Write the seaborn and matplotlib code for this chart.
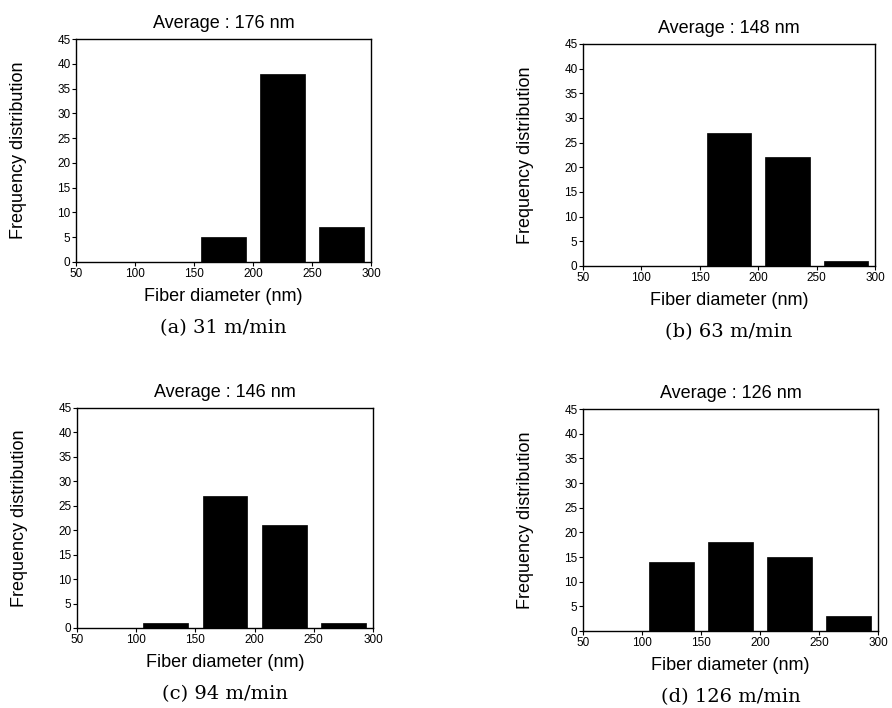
import matplotlib
matplotlib.use("Agg")
import matplotlib.pyplot as plt
import seaborn as sns
import numpy as np

# Data
bin_centers = [75, 125, 175, 225, 275]
bin_edges = [50, 100, 150, 200, 250, 300]
counts_a = [0, 0, 5, 38, 7]
counts_b = [0, 0, 27, 22, 1]
counts_c = [0, 1, 27, 21, 1]
counts_d = [0, 14, 18, 15, 3]
titles = ["Average : 176 nm", "Average : 148 nm", "Average : 146 nm", "Average : 126 nm"]
captions = ["(a) 31 m/min", "(b) 63 m/min", "(c) 94 m/min", "(d) 126 m/min"]
x_ticks = [50, 100, 150, 200, 250, 300]
y_ticks = [0, 5, 10, 15, 20, 25, 30, 35, 40, 45]

sns.set_style("ticks")
plt.rcParams['font.family'] = ['Liberation Sans', 'DejaVu Sans']
plt.rcParams['text.color'] = 'black'
plt.rcParams['axes.labelcolor'] = 'black'
plt.rcParams['xtick.color'] = 'black'
plt.rcParams['ytick.color'] = 'black'

W, H = 892, 708
fig = plt.figure(figsize=(W / 100, H / 100), dpi=100)

# axes boxes in pixel coords: left, right, top, bottom
boxes = [
    (76, 371, 39, 262),
    (583, 875, 44, 266),
    (77, 373, 408, 628),
    (583, 878, 409, 631),
]
all_counts = [counts_a, counts_b, counts_c, counts_d]

for (l, r, t, b), counts, title, cap in zip(boxes, all_counts, titles, captions):
    hpx = b - t
    ax = fig.add_axes([l / W, (H - b) / H, (r - l) / W, hpx / H])
    sns.histplot(x=bin_centers, weights=counts, bins=bin_edges, shrink=0.76,
                 color="black", edgecolor="black", alpha=1, linewidth=0.5, ax=ax)
    ax.set_xlim(50, 300)
    ax.set_ylim(0, 45)
    ax.set_xticks(x_ticks)
    ax.set_yticks(y_ticks)
    ax.tick_params(axis='both', labelsize=8.5, length=3, width=0.8, pad=1, color='black')
    for s in ax.spines.values():
        s.set_visible(True)
        s.set_linewidth(1.0)
        s.set_color('black')
    ax.set_xlabel("Fiber diameter (nm)", fontsize=13, labelpad=6)
    ax.set_ylabel("Frequency distribution", fontsize=13, labelpad=22)
    ax.set_title(title, fontsize=13, pad=8)
    ax.text(0.5, -66 / hpx, cap, transform=ax.transAxes, ha='center', va='center',
            fontsize=14, family=['DejaVu Serif'])

fig.savefig("out.png", dpi=100, facecolor="white")
